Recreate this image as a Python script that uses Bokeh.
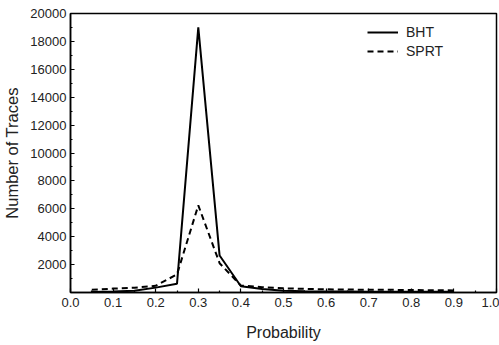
from bokeh.plotting import figure
from bokeh.models import Range1d, FixedTicker, Legend, LegendItem, NumeralTickFormatter
from bokeh.embed import file_html
from bokeh.resources import INLINE

prob = [0.05, 0.10, 0.15, 0.20, 0.25, 0.30, 0.35, 0.40, 0.45, 0.50,
        0.55, 0.60, 0.65, 0.70, 0.75, 0.80, 0.85, 0.90]
bht = [30, 70, 120, 350, 630, 19000, 2650, 450, 250, 120,
       90, 80, 70, 60, 60, 50, 50, 50]
sprt = [190, 280, 340, 480, 1300, 6250, 2100, 500, 380, 300,
        260, 230, 210, 200, 190, 180, 160, 150]

x_ticks = [0.0, 0.1, 0.2, 0.3, 0.4, 0.5, 0.6, 0.7, 0.8, 0.9, 1.0]
x_minor = [0.05, 0.15, 0.25, 0.35, 0.45, 0.55, 0.65, 0.75, 0.85, 0.95]
y_ticks = [2000, 4000, 6000, 8000, 10000, 12000, 14000, 16000, 18000, 20000]
y_minor = [1000, 3000, 5000, 7000, 9000, 11000, 13000, 15000, 17000, 19000]

FONT = "Liberation Sans"

p = figure(width=499, height=345, output_backend="svg", toolbar_location=None,
           x_range=Range1d(0, 1.0), y_range=Range1d(0, 20000),
           min_border_left=70, min_border_right=3, min_border_top=13, min_border_bottom=53)

p.background_fill_color = "white"
p.border_fill_color = "white"
p.outline_line_color = "black"
p.outline_line_width = 1.5
p.xgrid.visible = False
p.ygrid.visible = False

p.xaxis.ticker = FixedTicker(ticks=x_ticks, minor_ticks=x_minor)
p.yaxis.ticker = FixedTicker(ticks=y_ticks, minor_ticks=y_minor)
p.xaxis.formatter = NumeralTickFormatter(format="0.0")

for ax in (p.xaxis, p.yaxis):
    ax.axis_line_width = 1.5
    ax.axis_line_color = "black"
    ax.major_tick_in = 4
    ax.major_tick_out = 0
    ax.minor_tick_in = 2
    ax.minor_tick_out = 0
    ax.major_tick_line_width = 1.2
    ax.minor_tick_line_width = 1.2
    ax.major_label_text_font = FONT
    ax.major_label_text_font_size = "13px"
    ax.major_label_text_color = "#222222"
    ax.axis_label_text_font = FONT
    ax.axis_label_text_font_size = "16px"
    ax.axis_label_text_font_style = "normal"
    ax.axis_label_text_color = "#222222"

p.yaxis.axis_label_text_font_size = "16.5px"
p.xaxis.axis_label = "Probability"
p.yaxis.axis_label = "Number of Traces"
p.xaxis.major_label_standoff = 5
p.yaxis.major_label_standoff = 4
p.xaxis.axis_label_standoff = 14
p.yaxis.axis_label_standoff = 6

r1 = p.line(prob, bht, line_color="black", line_width=2)
r2 = p.line(prob, sprt, line_color="black", line_width=2, line_dash="6 4")

legend = Legend(items=[LegendItem(label="BHT", renderers=[r1]),
                       LegendItem(label="SPRT", renderers=[r2])],
                location=(297, 232))
legend.border_line_color = None
legend.background_fill_alpha = 0
legend.padding = 0
legend.margin = 0
legend.spacing = 1
legend.glyph_width = 31
legend.glyph_height = 18
legend.label_height = 18
legend.label_standoff = 8
legend.label_text_font = FONT
legend.label_text_font_size = "14px"
legend.label_text_color = "#222222"
p.add_layout(legend)

open("out.html", "w").write(file_html(p, INLINE))
